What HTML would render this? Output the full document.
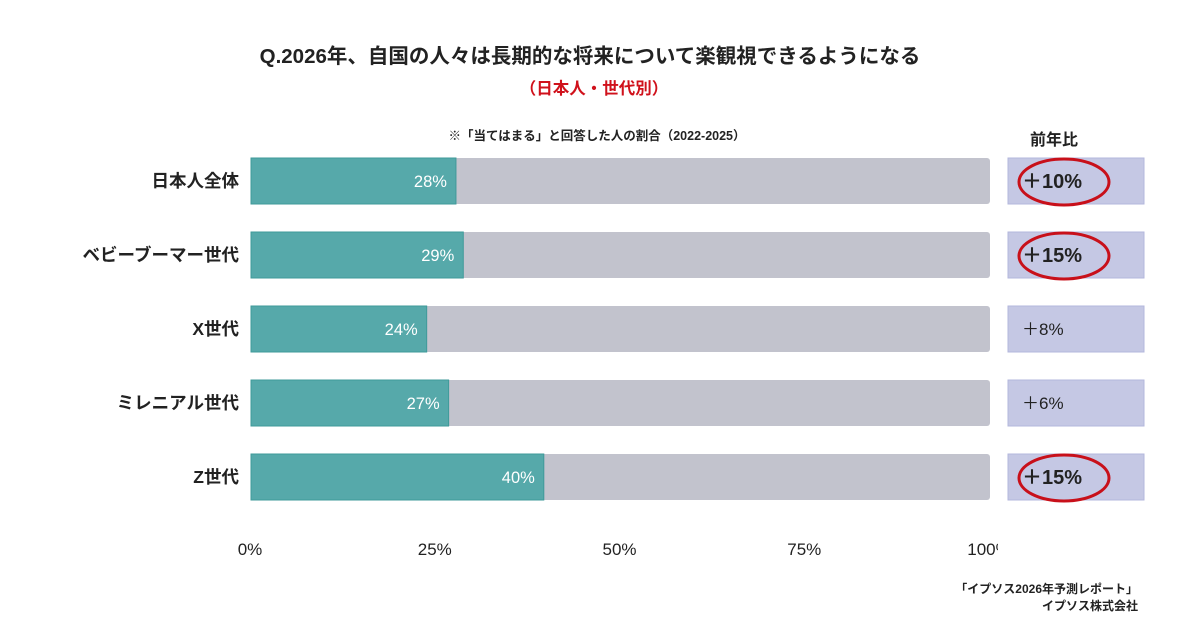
<!DOCTYPE html>
<html><head><meta charset="utf-8">
<style>
body{margin:0;width:1200px;height:630px;background:#fff;overflow:hidden;font-family:"Liberation Sans","Noto Sans CJK JP",sans-serif;}
svg text{font-family:"Liberation Sans","Noto Sans CJK JP",sans-serif;}
</style></head><body>
<svg id="chart" width="1200" height="630">
<text x="590" y="63" text-anchor="middle" font-size="20.5" font-weight="bold" fill="#222">Q.2026年、自国の人々は長期的な将来について楽観視できるようになる</text>
<text x="594" y="94" text-anchor="middle" font-size="16.5" font-weight="bold" fill="#d0111b">（日本人・世代別）</text>
<text x="597" y="140" text-anchor="middle" font-size="12.5" font-weight="bold" fill="#222">※「当てはまる」と回答した人の割合（2022-2025）</text>
<text x="1054" y="145" text-anchor="middle" font-size="16" font-weight="bold" fill="#222">前年比</text>
<g id="bars"></g>
<g id="ticks"></g>
<text x="1138" y="593" text-anchor="end" font-size="12" font-weight="bold" fill="#222">「イプソス2026年予測レポート」</text>
<text x="1138" y="610" text-anchor="end" font-size="12" font-weight="bold" fill="#222">イプソス株式会社</text>
</svg>
<script>
const categories=["日本人全体","ベビーブーマー世代","X世代","ミレニアル世代","Z世代"];
const values=[28,29,24,27,40];
const yoyLabels=["＋10%","＋15%","＋8%","＋6%","＋15%"];
const highlighted=[true,true,false,false,true];
const tickValues=[0,25,50,75,100];
const tickLabels=["0%","25%","50%","75%","100%"];
const NS="http://www.w3.org/2000/svg";
const x0=251,x1=990;
function xs(v){return x0+(x1-x0)*v/100;}
function xb(v){return x0+732*v/100;}
function ys(i){return 158+i*74;}
const bh=46;
function mk(t,a,p){const e=document.createElementNS(NS,t);for(const k in a)e.setAttribute(k,a[k]);p.appendChild(e);return e;}
const g=document.getElementById('bars');
categories.forEach((c,i)=>{
 const y=ys(i);
 const bg=mk('rect',{x:x0,y:y,width:x1-x0,height:bh,rx:3,fill:'#c2c3cd'},g);
 
 
 const b=mk('rect',{x:x0,y:y,width:xb(values[i])-x0,height:bh,fill:'#56a9aa',stroke:'#3f9a9a','stroke-width':1},g);
 
 
 const vl=mk('text',{x:xb(values[i])-9,y:y+bh/2+6,'text-anchor':'end','font-size':16.5,fill:'#fff'},g);
 vl.textContent=values[i]+'%';
 
 
 const cl=mk('text',{x:239,y:y+bh/2+6,'text-anchor':'end','font-size':17.5,'font-weight':'bold',fill:'#222'},g);
 cl.textContent=categories[i];
 
 
 const box=mk('rect',{x:1008,y:y,width:136,height:bh,fill:'#c5c8e4',stroke:'#b3b7dc'},g);
 
 
 const yt=mk('text',{x:1022,y:y+bh/2+(highlighted[i]?7:6),'font-size':highlighted[i]?20:17,'font-weight':highlighted[i]?'bold':'normal',fill:'#222'},g);
 yt.textContent=yoyLabels[i];
 
 
 if(highlighted[i]){
  const el=mk('ellipse',{cx:1064,cy:y+bh/2+1,rx:45,ry:23,fill:'none',stroke:'#c8101a','stroke-width':3},g);
  
  
 }
});
const tg=document.getElementById('ticks');
tickValues.forEach((v,i)=>{
 const t=mk('text',{x:xs(v)-1,y:555,'text-anchor':'middle','font-size':17,fill:'#222'},tg);
 t.textContent=tickLabels[i];
 
 
});
const cp=mk('rect',{x:998,y:530,width:20,height:40,fill:'#fff'},tg);


</script>
</body></html>
